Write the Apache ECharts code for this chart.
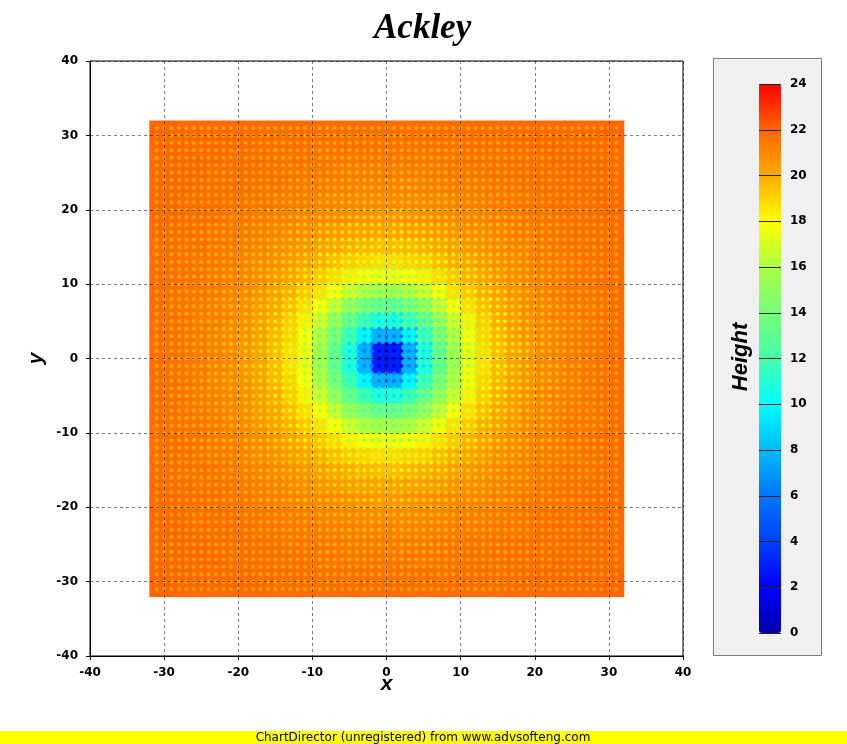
<!DOCTYPE html>
<html><head><meta charset="utf-8">
<script src="https://cdn.jsdelivr.net/npm/echarts@6/dist/echarts.min.js"></script>
<style>html,body{margin:0;padding:0;background:#fff}#c{width:847px;height:744px}</style>
</head><body><div id="c"></div>
<script>
// ---- data ----
const chartTitle = 'Ackley';
const xCenters = [-31,-29,-27,-25,-23,-21,-19,-17,-15,-13,-11,-9,-7,-5,-3,-1,1,3,5,7,9,11,13,15,17,19,21,23,25,27,29,31];
const yCenters = [31,29,27,25,23,21,19,17,15,13,11,9,7,5,3,1,-1,-3,-5,-7,-9,-11,-13,-15,-17,-19,-21,-23,-25,-27,-29,-31];
// heights[row][col]: row follows yCenters, col follows xCenters
const heights = [
[22.0,22.0,21.9,21.9,21.9,21.9,21.9,21.9,21.8,21.8,21.8,21.8,21.8,21.8,21.8,21.8,21.8,21.8,21.8,21.8,21.8,21.8,21.8,21.8,21.9,21.9,21.9,21.9,21.9,21.9,22.0,22.0],
[22.0,21.9,21.9,21.9,21.9,21.9,21.9,21.8,21.8,21.8,21.8,21.7,21.7,21.7,21.7,21.7,21.7,21.7,21.7,21.7,21.7,21.8,21.8,21.8,21.8,21.9,21.9,21.9,21.9,21.9,21.9,22.0],
[21.9,21.9,21.9,21.9,21.9,21.8,21.8,21.8,21.7,21.7,21.7,21.6,21.6,21.6,21.6,21.6,21.6,21.6,21.6,21.6,21.6,21.7,21.7,21.7,21.8,21.8,21.8,21.9,21.9,21.9,21.9,21.9],
[21.9,21.9,21.9,21.9,21.8,21.8,21.8,21.7,21.7,21.6,21.6,21.6,21.5,21.4,21.4,21.4,21.4,21.4,21.4,21.5,21.6,21.6,21.6,21.7,21.7,21.8,21.8,21.8,21.9,21.9,21.9,21.9],
[21.9,21.9,21.9,21.8,21.8,21.8,21.7,21.6,21.6,21.5,21.4,21.4,21.3,21.3,21.2,21.2,21.2,21.2,21.3,21.3,21.4,21.4,21.5,21.6,21.6,21.7,21.8,21.8,21.8,21.9,21.9,21.9],
[21.9,21.9,21.8,21.8,21.8,21.7,21.6,21.6,21.5,21.4,21.3,21.2,21.1,21.1,21.0,21.0,21.0,21.0,21.1,21.1,21.2,21.3,21.4,21.5,21.6,21.6,21.7,21.8,21.8,21.8,21.9,21.9],
[21.9,21.9,21.8,21.8,21.7,21.6,21.6,21.4,21.3,21.2,21.1,21.0,20.9,20.8,20.7,20.6,20.6,20.7,20.8,20.9,21.0,21.1,21.2,21.3,21.4,21.6,21.6,21.7,21.8,21.8,21.9,21.9],
[21.9,21.8,21.8,21.7,21.6,21.6,21.4,21.3,21.2,21.0,20.9,20.7,20.5,20.4,20.3,20.2,20.2,20.3,20.4,20.5,20.7,20.9,21.0,21.2,21.3,21.4,21.6,21.6,21.7,21.8,21.8,21.9],
[21.8,21.8,21.7,21.7,21.6,21.5,21.3,21.2,21.0,20.8,20.6,20.3,20.1,19.9,19.7,19.6,19.6,19.7,19.9,20.1,20.3,20.6,20.8,21.0,21.2,21.3,21.5,21.6,21.7,21.7,21.8,21.8],
[21.8,21.8,21.7,21.6,21.5,21.4,21.2,21.0,20.8,20.5,20.2,19.9,19.5,19.2,19.0,18.8,18.8,19.0,19.2,19.5,19.9,20.2,20.5,20.8,21.0,21.2,21.4,21.5,21.6,21.7,21.8,21.8],
[21.8,21.8,21.7,21.6,21.4,21.3,21.1,20.9,20.6,20.2,19.8,19.3,18.8,18.3,17.9,17.6,17.6,17.9,18.3,18.8,19.3,19.8,20.2,20.6,20.9,21.1,21.3,21.4,21.6,21.7,21.8,21.8],
[21.8,21.7,21.6,21.6,21.4,21.2,21.0,20.7,20.3,19.9,19.3,18.7,17.9,16.9,16.2,15.8,15.8,16.2,16.9,17.9,18.7,19.3,19.9,20.3,20.7,21.0,21.2,21.4,21.6,21.6,21.7,21.8],
[21.8,21.7,21.6,21.5,21.3,21.1,20.9,20.5,20.1,19.5,18.8,17.9,16.6,15.3,14.2,13.5,13.5,14.2,15.3,16.6,17.9,18.8,19.5,20.1,20.5,20.9,21.1,21.3,21.5,21.6,21.7,21.8],
[21.8,21.7,21.6,21.4,21.3,21.1,20.8,20.4,19.9,19.2,18.3,16.9,15.3,13.5,12.0,11.0,11.0,12.0,13.5,15.3,16.9,18.3,19.2,19.9,20.4,20.8,21.1,21.3,21.4,21.6,21.7,21.8],
[21.8,21.7,21.6,21.4,21.2,21.0,20.7,20.3,19.7,19.0,17.9,16.2,14.2,12.0,9.8,7.8,7.8,9.8,12.0,14.2,16.2,17.9,19.0,19.7,20.3,20.7,21.0,21.2,21.4,21.6,21.7,21.8],
[21.8,21.7,21.6,21.4,21.2,21.0,20.6,20.2,19.6,18.8,17.6,15.8,13.5,11.0,7.8,3.0,3.0,7.8,11.0,13.5,15.8,17.6,18.8,19.6,20.2,20.6,21.0,21.2,21.4,21.6,21.7,21.8],
[21.8,21.7,21.6,21.4,21.2,21.0,20.6,20.2,19.6,18.8,17.6,15.8,13.5,11.0,7.8,3.0,3.0,7.8,11.0,13.5,15.8,17.6,18.8,19.6,20.2,20.6,21.0,21.2,21.4,21.6,21.7,21.8],
[21.8,21.7,21.6,21.4,21.2,21.0,20.7,20.3,19.7,19.0,17.9,16.2,14.2,12.0,9.8,7.8,7.8,9.8,12.0,14.2,16.2,17.9,19.0,19.7,20.3,20.7,21.0,21.2,21.4,21.6,21.7,21.8],
[21.8,21.7,21.6,21.4,21.3,21.1,20.8,20.4,19.9,19.2,18.3,16.9,15.3,13.5,12.0,11.0,11.0,12.0,13.5,15.3,16.9,18.3,19.2,19.9,20.4,20.8,21.1,21.3,21.4,21.6,21.7,21.8],
[21.8,21.7,21.6,21.5,21.3,21.1,20.9,20.5,20.1,19.5,18.8,17.9,16.6,15.3,14.2,13.5,13.5,14.2,15.3,16.6,17.9,18.8,19.5,20.1,20.5,20.9,21.1,21.3,21.5,21.6,21.7,21.8],
[21.8,21.7,21.6,21.6,21.4,21.2,21.0,20.7,20.3,19.9,19.3,18.7,17.9,16.9,16.2,15.8,15.8,16.2,16.9,17.9,18.7,19.3,19.9,20.3,20.7,21.0,21.2,21.4,21.6,21.6,21.7,21.8],
[21.8,21.8,21.7,21.6,21.4,21.3,21.1,20.9,20.6,20.2,19.8,19.3,18.8,18.3,17.9,17.6,17.6,17.9,18.3,18.8,19.3,19.8,20.2,20.6,20.9,21.1,21.3,21.4,21.6,21.7,21.8,21.8],
[21.8,21.8,21.7,21.6,21.5,21.4,21.2,21.0,20.8,20.5,20.2,19.9,19.5,19.2,19.0,18.8,18.8,19.0,19.2,19.5,19.9,20.2,20.5,20.8,21.0,21.2,21.4,21.5,21.6,21.7,21.8,21.8],
[21.8,21.8,21.7,21.7,21.6,21.5,21.3,21.2,21.0,20.8,20.6,20.3,20.1,19.9,19.7,19.6,19.6,19.7,19.9,20.1,20.3,20.6,20.8,21.0,21.2,21.3,21.5,21.6,21.7,21.7,21.8,21.8],
[21.9,21.8,21.8,21.7,21.6,21.6,21.4,21.3,21.2,21.0,20.9,20.7,20.5,20.4,20.3,20.2,20.2,20.3,20.4,20.5,20.7,20.9,21.0,21.2,21.3,21.4,21.6,21.6,21.7,21.8,21.8,21.9],
[21.9,21.9,21.8,21.8,21.7,21.6,21.6,21.4,21.3,21.2,21.1,21.0,20.9,20.8,20.7,20.6,20.6,20.7,20.8,20.9,21.0,21.1,21.2,21.3,21.4,21.6,21.6,21.7,21.8,21.8,21.9,21.9],
[21.9,21.9,21.8,21.8,21.8,21.7,21.6,21.6,21.5,21.4,21.3,21.2,21.1,21.1,21.0,21.0,21.0,21.0,21.1,21.1,21.2,21.3,21.4,21.5,21.6,21.6,21.7,21.8,21.8,21.8,21.9,21.9],
[21.9,21.9,21.9,21.8,21.8,21.8,21.7,21.6,21.6,21.5,21.4,21.4,21.3,21.3,21.2,21.2,21.2,21.2,21.3,21.3,21.4,21.4,21.5,21.6,21.6,21.7,21.8,21.8,21.8,21.9,21.9,21.9],
[21.9,21.9,21.9,21.9,21.8,21.8,21.8,21.7,21.7,21.6,21.6,21.6,21.5,21.4,21.4,21.4,21.4,21.4,21.4,21.5,21.6,21.6,21.6,21.7,21.7,21.8,21.8,21.8,21.9,21.9,21.9,21.9],
[21.9,21.9,21.9,21.9,21.9,21.8,21.8,21.8,21.7,21.7,21.7,21.6,21.6,21.6,21.6,21.6,21.6,21.6,21.6,21.6,21.6,21.7,21.7,21.7,21.8,21.8,21.8,21.9,21.9,21.9,21.9,21.9],
[22.0,21.9,21.9,21.9,21.9,21.9,21.9,21.8,21.8,21.8,21.8,21.7,21.7,21.7,21.7,21.7,21.7,21.7,21.7,21.7,21.7,21.8,21.8,21.8,21.8,21.9,21.9,21.9,21.9,21.9,21.9,22.0],
[22.0,22.0,21.9,21.9,21.9,21.9,21.9,21.9,21.8,21.8,21.8,21.8,21.8,21.8,21.8,21.8,21.8,21.8,21.8,21.8,21.8,21.8,21.8,21.8,21.9,21.9,21.9,21.9,21.9,21.9,22.0,22.0]
];
const axisMin = -40, axisMax = 40, axisStep = 10;
const scaleMin = 0, scaleMax = 24, scaleStep = 2;
const palette = ['#0000a8','#0000ff','#0040ff','#0077ff','#00bbff','#00ffff','#44ffaa','#77ff77','#aaff44','#ffff00','#ffaa00','#ff6600','#ff0000'];

// ---- build ----
const cells = [];
heights.forEach((row, i) => row.forEach((v, j) => cells.push([xCenters[j], yCenters[i], v])));
const halfX = Math.abs(xCenters[1] - xCenters[0]) / 2;
const halfY = Math.abs(yCenters[1] - yCenters[0]) / 2;
const edgeX = Math.max(...xCenters) + halfX;
const edgeY = Math.max(...yCenters) + halfY;

const chart = echarts.init(document.getElementById('c'), null, {renderer: 'canvas'});
const boldLabel = {color: '#000', fontFamily: 'DejaVu Sans', fontWeight: 'bold', fontSize: 12};
const nameStyle = {color: '#000', fontFamily: 'Liberation Sans', fontWeight: 'bold', fontStyle: 'italic', fontSize: 21};

chart.setOption({
  animation: false,
  backgroundColor: '#fff',
  title: {text: chartTitle, left: 369, top: 6,
    textStyle: {fontFamily: 'Liberation Serif', fontWeight: 'bold', fontStyle: 'italic', fontSize: 35, color: '#000'}},
  grid: [
    {left: 90, top: 61, width: 593, height: 595, show: true, borderColor: '#000', borderWidth: 1, backgroundColor: 'transparent'},
    {left: 759, top: 84, width: 22, height: 549, show: false}
  ],
  xAxis: [
    {type: 'value', gridIndex: 0, min: axisMin, max: axisMax, interval: axisStep, z: 5,
     axisLine: {show: true, onZero: false, lineStyle: {color: '#000', width: 1}},
     axisTick: {show: true, length: 4, lineStyle: {color: '#000'}},
     axisLabel: Object.assign({margin: 11}, boldLabel),
     splitLine: {show: true, lineStyle: {color: 'rgba(0,0,0,0.5)', type: [3, 3], width: 1}},
     name: 'x', nameLocation: 'middle', nameGap: 18, nameMoveOverlap: false, nameTextStyle: nameStyle},
    {type: 'value', gridIndex: 1, show: false, min: 0, max: 1}
  ],
  yAxis: [
    {type: 'value', gridIndex: 0, min: axisMin, max: axisMax, interval: axisStep, z: 5,
     axisLine: {show: true, onZero: false, lineStyle: {color: '#000', width: 1}},
     axisTick: {show: true, length: 4, lineStyle: {color: '#000'}},
     axisLabel: Object.assign({margin: 12}, boldLabel),
     splitLine: {show: true, lineStyle: {color: 'rgba(0,0,0,0.5)', type: [3, 3], width: 1}},
     name: 'y', nameLocation: 'middle', nameGap: 43, nameMoveOverlap: false, nameTextStyle: nameStyle},
    {type: 'value', gridIndex: 1, min: scaleMin, max: scaleMax, interval: scaleStep, position: 'right', z: 10,
     axisLine: {show: false},
     axisTick: {show: false},
     axisLabel: Object.assign({margin: 9}, boldLabel),
     splitLine: {show: true, lineStyle: {color: '#222', width: 1}}}
  ],
  visualMap: {
    type: 'continuous', min: scaleMin, max: scaleMax, dimension: 2, seriesIndex: 0, z: 2,
    calculable: false, orient: 'vertical', left: 759, top: 84, padding: 0,
    itemWidth: 22, itemHeight: 549, text: null, showLabel: false,
    inRange: {color: palette}
  },
  graphic: [
    {type: 'rect', z: -1, shape: {x: 713.5, y: 58.5, width: 108, height: 597},
     style: {fill: '#f0f0f0', stroke: '#7a7a7a', lineWidth: 1}},
    {type: 'text', z: 5, x: 741, y: 357, rotation: Math.PI / 2,
     style: {text: 'Height', fill: '#000', font: 'italic bold 22px "Liberation Sans"', align: 'center', verticalAlign: 'middle'}},
    {type: 'rect', z: 5, shape: {x: 0, y: 731, width: 847, height: 13}, style: {fill: '#ffff00'}},
    {type: 'text', z: 6, x: 423, y: 738, style: {text: 'ChartDirector (unregistered) from www.advsofteng.com', fill: '#000', font: '12px "DejaVu Sans"', align: 'center', verticalAlign: 'middle'}}
  ],
  series: [
    {type: 'custom', xAxisIndex: 0, yAxisIndex: 0, z: 1, silent: true, data: cells,
     encode: {x: 0, y: 1},
     renderItem: function (params, api) {
       const x = api.value(0), y = api.value(1);
       const p0 = api.coord([x - halfX, y + halfY]);
       const p1 = api.coord([x + halfX, y - halfY]);
       return {type: 'rect', shape: {x: p0[0], y: p0[1], width: p1[0] - p0[0] + 0.6, height: p1[1] - p0[1] + 0.6},
               style: {fill: api.visual('color')}};
     }},
    {type: 'custom', xAxisIndex: 0, yAxisIndex: 0, z: 2, silent: true, data: cells,
     encode: {x: 0, y: 1},
     renderItem: function (params, api) {
       const x = api.value(0), y = api.value(1), v = api.value(2);
       const t = Math.max(0, Math.min(1, (v - 1.8 - scaleMin) / (scaleMax - scaleMin)));
       const c = echarts.color.lerp(t, palette);
       const c0 = echarts.color.modifyAlpha(c, 0);
       const rad = api.size([1, 1])[0] * 0.36;
       const children = [];
       [0, 1].forEach(dx => [0, 1].forEach(dy => {
         const px = x + dx * halfX, py = y + dy * halfY;
         if (px >= edgeX || py >= edgeY) return;
         const p = api.coord([px, py]);
         children.push({type: 'circle', shape: {cx: p[0], cy: p[1], r: rad},
           style: {fill: {type: 'radial', x: 0.5, y: 0.5, r: 0.5,
             colorStops: [{offset: 0, color: c}, {offset: 0.4, color: c}, {offset: 1, color: c0}]}}});
       }));
       return {type: 'group', children: children};
     }}
  ]
});
</script></body></html>
